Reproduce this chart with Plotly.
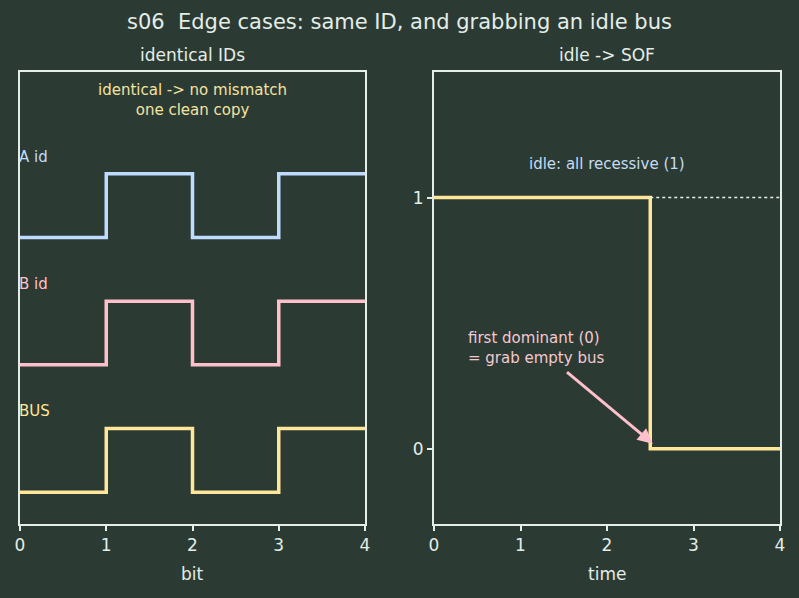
import plotly.graph_objects as go

# ---- data ----
bit_x = [0, 1, 2, 3, 4]
id_bits = [0, 1, 0, 1]          # identical IDs for A and B
signal_names = ["A id", "B id", "BUS"]
signal_offsets = [4, 2, 0]
signal_colors = ["#bfdcff", "#ffc0cb", "#ffe699"]

sof_time = [0, 2.5, 4]
sof_level = [1, 0, 0]
idle_dot_x = [2.5, 4]
idle_dot_y = [1, 1]

BG = "#2b3b34"
FG = "#e4ede7"
FONT = "DejaVu Sans"

fig = go.Figure()

# left panel signals
for name, off, col in zip(signal_names, signal_offsets, signal_colors):
    ys = [b + off for b in id_bits] + [id_bits[-1] + off]
    fig.add_trace(go.Scatter(x=bit_x, y=ys, mode="lines", line=dict(color=col, width=3.5, shape="hv"),
                             xaxis="x", yaxis="y", showlegend=False, hoverinfo="skip"))
    fig.add_annotation(x=0, y=off + 1.3, xref="x", yref="y", text=name, showarrow=False, xshift=-3, yshift=-2,
                       xanchor="left", yanchor="middle", font=dict(color=col, size=15, family=FONT))

fig.add_annotation(x=2, y=1 - 79 / 598, xref="x", yref="paper", text="identical -> no mismatch<br>one clean copy",
                   showarrow=False, xanchor="center", yanchor="top", align="center",
                   font=dict(color="#f3e3a0", size=15, family=FONT))

# right panel
fig.add_trace(go.Scatter(x=sof_time, y=sof_level, mode="lines", line=dict(color="#ffe699", width=3.5, shape="hv"),
                         xaxis="x2", yaxis="y2", showlegend=False, hoverinfo="skip"))
fig.add_trace(go.Scatter(x=idle_dot_x, y=idle_dot_y, mode="lines", line=dict(color=FG, width=1.5, dash="dot"),
                         xaxis="x2", yaxis="y2", showlegend=False, hoverinfo="skip"))
fig.add_annotation(x=2, y=1.14, xref="x2", yref="y2", text="idle: all recessive (1)", showarrow=False, yshift=-2,
                   xanchor="center", yanchor="middle", font=dict(color="#c6dcf0", size=15, family=FONT))
fig.add_annotation(x=2.53, y=0.02, xref="x2", yref="y2", ax=1.52, ay=0.31, axref="x2", ayref="y2",
                   text="", showarrow=True, arrowhead=2, arrowsize=1, arrowwidth=3, arrowcolor="#ffc0cb")
fig.add_annotation(x=0.4, y=0.405, xref="x2", yref="y2", text="first dominant (0)<br>= grab empty bus",
                   showarrow=False, xanchor="left", yanchor="middle", align="left", xshift=-3, yshift=-1,
                   font=dict(color="#f5c8cf", size=15, family=FONT))

# titles
fig.add_annotation(x=0.5, y=1 - 22 / 598, xref="paper", yref="paper",
                   text="s06\u00a0 Edge cases: same ID, and grabbing an idle bus", showarrow=False,
                   xanchor="center", yanchor="middle", font=dict(color=FG, size=21, family=FONT))
for ax_ref, sub, xt in [("x", "identical IDs", "bit"), ("x2", "idle -> SOF", "time")]:
    fig.add_annotation(x=2, y=1 - 55 / 598, xref=ax_ref, yref="paper", text=sub, showarrow=False,
                       xanchor="center", yanchor="middle", font=dict(color=FG, size=17, family=FONT))
    fig.add_annotation(x=2, y=1 - 574 / 598, xref=ax_ref, yref="paper", text=xt, showarrow=False,
                       xanchor="center", yanchor="middle", font=dict(color=FG, size=17, family=FONT))

ax_common = dict(showline=True, linecolor=FG, linewidth=2, mirror=True, showgrid=False, zeroline=False,
                 ticks="outside", ticklen=5, tickwidth=1.5, tickcolor=FG, automargin=False,
                 tickfont=dict(color=FG, size=17, family=FONT))

y_dom = [(598 - 524) / 598, (598 - 72) / 598]
fig.update_layout(
    width=799, height=598, margin=dict(l=0, r=0, t=0, b=0, autoexpand=False),
    paper_bgcolor=BG, plot_bgcolor=BG, showlegend=False,
    xaxis=dict(domain=[20 / 799, 365 / 799], range=[0, 4], tickvals=[0, 1, 2, 3, 4], **ax_common),
    yaxis=dict(domain=y_dom, range=[-0.5, 6.6], showticklabels=False, **{**ax_common, "ticks": ""}),
    xaxis2=dict(domain=[434 / 799, 780 / 799], range=[0, 4], tickvals=[0, 1, 2, 3, 4], anchor="y2", **ax_common),
    yaxis2=dict(domain=y_dom, range=[-0.3, 1.5], tickvals=[0, 1], anchor="x2", **ax_common),
)

fig.write_html("out.html")
